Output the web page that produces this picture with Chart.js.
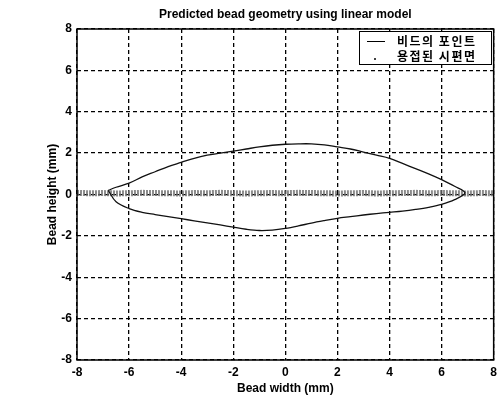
<!DOCTYPE html>
<html>
<head>
<meta charset="utf-8">
<script src="https://cdn.jsdelivr.net/npm/chart.js@4/dist/chart.umd.min.js"></script>
<style>
  html, body { margin: 0; padding: 0; background: #fff; }
  #wrap { width: 502px; height: 400px; position: relative; }
</style>
</head>
<body>
<div id="wrap"><canvas id="c" width="502" height="400"></canvas></div>
<script>
// ---- data ----
const titleText = "Predicted bead geometry using linear model";
const xTitle = "Bead width (mm)";
const yTitle = "Bead height (mm)";
const seriesNames = ["비드의 포인트", "용접된 시편면"];
const tickValues = [-8, -6, -4, -2, 0, 2, 4, 6, 8];

// bead outline: upper edge (left→right) then lower edge (right→left)
const beadX = [-6.8, -6.5, -6, -5.5, -5, -4.5, -4, -3.5, -3, -2.5, -2, -1.5, -1, -0.5, 0, 0.5, 1, 1.5, 2, 2.5, 3, 3.5, 4, 4.5, 5, 5.5, 6, 6.5, 6.9,
               6.5, 6, 5.5, 5, 4.5, 4, 3.5, 3, 2.5, 2, 1.5, 1, 0.5, 0, -0.5, -1, -1.5, -2, -2.5, -3, -3.5, -4, -4.5, -5, -5.5, -6, -6.5, -6.8];
const beadY = [0.2, 0.35, 0.55, 0.85, 1.1, 1.35, 1.55, 1.75, 1.9, 2.0, 2.1, 2.2, 2.3, 2.38, 2.43, 2.45, 2.45, 2.4, 2.3, 2.2, 2.05, 1.9, 1.75, 1.5, 1.25, 1.0, 0.72, 0.4, 0.08,
               -0.25, -0.48, -0.62, -0.72, -0.8, -0.86, -0.92, -0.99, -1.07, -1.15, -1.26, -1.38, -1.52, -1.64, -1.72, -1.74, -1.68, -1.58, -1.47, -1.37, -1.27, -1.17, -1.07, -0.97, -0.86, -0.68, -0.35, 0.2];

// welded specimen surface points (grey dotted band near y = 0)
const surfX = [-8, -7.5, -7, -6.5, -6, -5.5, -5, -4.5, -4, -3.5, -3, -2.5, -2, -1.5, -1, -0.5, 0, 0.5, 1, 1.5, 2, 2.5, 3, 3.5, 4, 4.5, 5, 5.5, 6, 6.5, 7, 7.5, 8];
const surfY = [0.08, 0.06, 0.07, 0.05, 0.06, 0.08, 0.07, 0.06, 0.05, 0.07, 0.06, 0.08, 0.06, 0.05, 0.06, 0.07, 0.06, 0.08, 0.07, 0.06, 0.05, 0.06, 0.07, 0.05, 0.06, 0.07, 0.08, 0.06, 0.07, 0.06, 0.05, 0.07, 0.06];

const beadPts = beadX.map((x, i) => ({x: x, y: beadY[i]}));
const surfPts = surfX.map((x, i) => ({x: x, y: surfY[i]}));

const fontFam = "'Liberation Sans', Arial, sans-serif";

const framePlugin = {
  id: 'frame',
  afterDraw(chart) {
    const {ctx, chartArea: a} = chart;
    ctx.save();
    // plot box
    ctx.strokeStyle = '#000';
    ctx.lineWidth = 1.5;
    ctx.strokeRect(a.left, a.top, a.right - a.left, a.bottom - a.top);
    // title
    ctx.fillStyle = '#000';
    ctx.font = "bold 12px " + fontFam;
    ctx.textAlign = 'center';
    ctx.textBaseline = 'middle';
    ctx.fillText(titleText, (a.left + a.right) / 2, 15);
    // legend box
    const lx = 359, ly = 31, lw = 132, lh = 33;
    ctx.fillStyle = '#fff';
    ctx.fillRect(lx, ly, lw, lh);
    ctx.strokeStyle = '#000';
    ctx.lineWidth = 1;
    ctx.strokeRect(lx + 0.5, ly + 0.5, lw, lh);
    ctx.beginPath();
    ctx.moveTo(367, 41.5);
    ctx.lineTo(385, 41.5);
    ctx.stroke();
    ctx.fillStyle = '#000';
    ctx.beginPath();
    ctx.arc(375, 59, 1, 0, Math.PI * 2);
    ctx.fill();
    ctx.font = "bold 12px 'Noto Sans CJK KR', sans-serif";
    ctx.letterSpacing = '1.5px';
    ctx.textAlign = 'left';
    ctx.fillText(chart.data.datasets[0].label, 397, 41);
    ctx.fillText(chart.data.datasets[1].label, 397, 56);
    ctx.restore();
  }
};

const gridOpts = {
  color: '#000',
  lineWidth: 1.3,
  drawTicks: false,
};

new Chart(document.getElementById('c'), {
  type: 'scatter',
  data: {
    datasets: [
      {
        label: seriesNames[0],
        data: beadPts,
        showLine: true,
        borderColor: '#111',
        borderWidth: 1.3,
        pointRadius: 0,
        tension: 0.35,
        fill: false,
      },
      {
        label: seriesNames[1],
        data: surfPts,
        showLine: true,
        borderColor: 'rgba(110,110,110,0.8)',
        borderWidth: 6,
        borderDash: [2, 1],
        pointRadius: 0,
        tension: 0,
      }
    ]
  },
  options: {
    responsive: false,
    animation: false,
    layout: { padding: { top: 29, right: 8, left: 0, bottom: 0 } },
    plugins: {
      legend: { display: false },
      title: { display: false },
      tooltip: { enabled: false }
    },
    scales: {
      x: {
        type: 'linear',
        min: -8, max: 8,
        afterBuildTicks(s) { s.ticks = tickValues.map(v => ({value: v})); },
        afterFit(s) { s.height = 40; },
        grid: gridOpts,
        border: { display: false, dash: [4, 3] },
        ticks: { color: '#000', padding: 5, maxRotation: 0, font: { family: fontFam, size: 12, weight: 'bold' } },
        title: { display: true, text: xTitle, color: '#000', padding: { top: 0, bottom: 4 }, font: { family: fontFam, size: 12, weight: 'bold' } }
      },
      y: {
        type: 'linear',
        min: -8, max: 8,
        afterBuildTicks(s) { s.ticks = tickValues.map(v => ({value: v})); },
        afterFit(s) { s.width = 77; },
        grid: gridOpts,
        border: { display: false, dash: [4, 3] },
        ticks: { color: '#000', padding: 5, font: { family: fontFam, size: 12, weight: 'bold' } },
        title: { display: true, text: yTitle, color: '#000', padding: { top: 45, bottom: 0 }, font: { family: fontFam, size: 12, weight: 'bold' } }
      }
    }
  },
  plugins: [framePlugin]
});
</script>
</body>
</html>
